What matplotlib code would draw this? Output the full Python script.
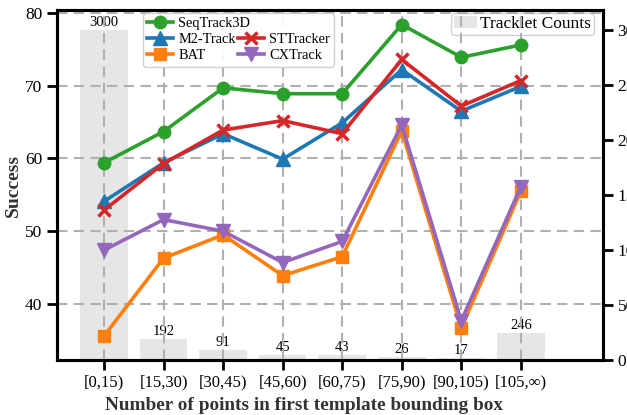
import numpy as np
import matplotlib
matplotlib.use("Agg")
import matplotlib.pyplot as plt
from matplotlib.lines import Line2D

plt.rcParams['font.family'] = ['Liberation Serif', 'DejaVu Serif']

## DATA
bins = ['[0,15)', '[15,30)', '[30,45)', '[45,60)', '[60,75)', '[75,90)', '[90,105)', '[105,\u221e)']
counts = [3000, 192, 91, 45, 43, 26, 17, 246]

seqtrack3d = [59.4, 63.7, 69.7, 68.9, 68.9, 78.4, 73.9, 75.6]
m2track = [54.1, 59.4, 63.4, 59.9, 64.9, 72.2, 66.5, 69.9]
bat = [35.6, 46.3, 49.5, 43.9, 46.5, 63.8, 36.7, 55.5]
sttracker = [52.9, 59.3, 63.9, 65.2, 63.4, 73.6, 67.2, 70.7]
cxtrack = [47.4, 51.6, 50.0, 45.7, 48.6, 64.6, 37.7, 56.1]

x = np.arange(len(bins))

fig = plt.figure(figsize=(6.27, 4.15), dpi=100)
ax = fig.add_axes([0.0909, 0.1325, 0.8708, 0.8434])
ax2 = ax.twinx()

# bars behind the lines
ax2.bar(x, counts, width=0.8, color='#e6e6e6', label='Tracklet Counts', zorder=1)
for xi, c in zip(x, counts):
    ax2.text(xi, c + 8, str(c), ha='center', va='bottom', fontsize=10.5)
ax2.set_ylim(0, 3180)
ax2.set_yticks([0, 500, 1000, 1500, 2000, 2500, 3000])
ax.set_zorder(ax2.get_zorder() + 1)
ax.patch.set_visible(False)

lw = 2.6
ms = 9
l1, = ax.plot(x, seqtrack3d, '-o', color='#2ca02c', lw=lw, ms=ms, label='SeqTrack3D')
l2, = ax.plot(x, m2track, '-^', color='#1f77b4', lw=lw, ms=ms + 1, label='M2-Track')
l3, = ax.plot(x, bat, '-s', color='#ff7f0e', lw=lw, ms=ms, label='BAT')
l4, = ax.plot(x, sttracker, '-x', color='#d62728', lw=lw, ms=ms, mew=2.5, label='STTracker')
l5, = ax.plot(x, cxtrack, '-v', color='#9467bd', lw=lw, ms=ms + 1, label='CXTrack')

ax.set_xlim(-0.79, 8.38)
ax.set_ylim(32.3, 80.4)
ax.set_yticks([40, 50, 60, 70, 80])
ax.set_xticks(x)
ax.set_xticklabels(bins)
ax.grid(True, linestyle='--', color='#b0b0b0', linewidth=1.5, dashes=(5, 3))

ax.set_xlabel('Number of points in first template bounding box', fontsize=13.9,
              fontweight='bold', color='#333333')
ax.xaxis.set_label_coords(0.453, -0.105)
ax.set_ylabel('Success', fontsize=14, fontweight='bold', color='#333333', labelpad=2)

for a in (ax, ax2):
    for s in a.spines.values():
        s.set_linewidth(2.2)
    a.tick_params(width=2, length=7, labelsize=12.5)
ax.tick_params(axis='x', labelsize=12)

blank = Line2D([], [], alpha=0)
ax.legend([l1, l2, l3, blank, l4, l5],
          ['SeqTrack3D', 'M2-Track', 'BAT', '', 'STTracker', 'CXTrack'],
          ncol=2, loc='upper left', bbox_to_anchor=(0.152, 1.0), borderaxespad=0.2,
          fontsize=10.4, handlelength=1.8, handletextpad=0.35, columnspacing=-0.85,
          labelspacing=0.2, borderpad=0.3, framealpha=0.9, edgecolor='#cccccc')
ax2.legend(loc='upper right', bbox_to_anchor=(1 - 6 / 546, 1.0), borderaxespad=0.2,
           fontsize=12.5, handlelength=1.3, handletextpad=0.2,
           borderpad=0.15, framealpha=0.9, edgecolor='#cccccc')

fig.savefig('out.png', dpi=100)
